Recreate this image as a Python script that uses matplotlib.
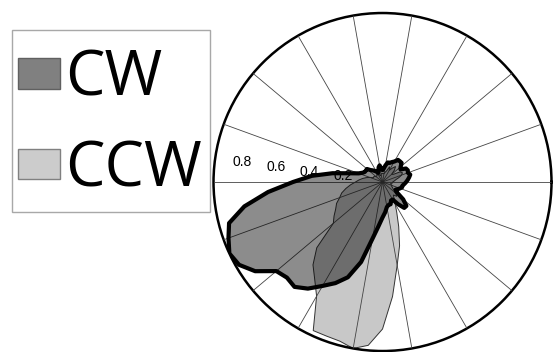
import numpy as np
import matplotlib.pyplot as plt
from matplotlib.patches import Patch, Rectangle
from matplotlib.transforms import ScaledTranslation

# direction bins (degrees) and normalised rose radii
angles_deg = np.arange(0, 360, 5)

cw = [0.14, 0.15, 0.16, 0.17, 0.16, 0.165, 0.16, 0.13, 0.14, 0.16, 0.16, 0.16,
      0.14, 0.13, 0.12, 0.12, 0.10, 0.08, 0.07, 0.08, 0.10, 0.09, 0.07, 0.06,
      0.07, 0.08, 0.09, 0.10, 0.12, 0.12, 0.12, 0.13, 0.15, 0.20, 0.30, 0.42,
      0.53, 0.68, 0.83, 0.94, 0.97, 1.00, 0.98, 0.92, 0.82, 0.80, 0.81, 0.77,
      0.71, 0.66, 0.60, 0.49, 0.34, 0.26, 0.21, 0.18, 0.15, 0.14, 0.14, 0.12,
      0.12, 0.16, 0.20, 0.20, 0.16, 0.10, 0.09, 0.10, 0.11, 0.12, 0.12, 0.13]

ccw = [0.06, 0.07, 0.08, 0.10, 0.12, 0.13, 0.12, 0.08, 0.07, 0.10, 0.12, 0.10,
       0.08, 0.10, 0.07, 0.06, 0.05, 0.05, 0.05, 0.05, 0.05, 0.04, 0.04, 0.05,
       0.05, 0.06, 0.05, 0.05, 0.05, 0.06, 0.06, 0.06, 0.08, 0.10, 0.12, 0.14,
       0.16, 0.19, 0.22, 0.25, 0.27, 0.30, 0.32, 0.35, 0.38, 0.55, 0.64, 0.70,
       0.78, 0.97, 0.97, 0.975, 1.00, 0.97, 0.87, 0.68, 0.50, 0.39, 0.28, 0.20,
       0.15, 0.12, 0.10, 0.12, 0.10, 0.08, 0.07, 0.06, 0.06, 0.05, 0.05, 0.06]

series_names = ['CW', 'CCW']
r_ticks = [0.2, 0.4, 0.6, 0.8]

theta = np.deg2rad(np.append(angles_deg, angles_deg[0]))
cw_r = np.append(cw, cw[0])
ccw_r = np.append(ccw, ccw[0])

fig = plt.figure(figsize=(5.54, 3.52), dpi=100)
ax = fig.add_axes([0.3854, 0.0028, 0.6101, 0.9602], projection='polar')

ax.fill(theta, ccw_r, facecolor='#c8c8c8', edgecolor='#333333', linewidth=0.7, zorder=1)
ax.fill(theta, cw_r, facecolor=(0, 0, 0, 0.45), edgecolor='black', linewidth=3,
        joinstyle='round', zorder=3)

ax.set_ylim(0, 1.0)
ax.set_axisbelow(False)
ax.set_thetagrids(range(0, 360, 20), labels=[])
ax.set_rgrids(r_ticks, labels=[str(t) for t in r_ticks], angle=172,
              fontsize=10, family='Liberation Sans')
ax.xaxis.grid(True, color='#444444', linewidth=0.6)
ax.yaxis.grid(False)
ax.tick_params(axis='y', pad=0)
# nudge the radial labels left/down, above the 180 degree spoke
shift = ScaledTranslation(-0.16, -0.06, fig.dpi_scale_trans)
for lbl in ax.get_yticklabels():
    lbl.set_transform(lbl.get_transform() + shift)
ax.spines['polar'].set_linewidth(1.8)

handles = [Patch(facecolor='#808080', edgecolor='#606060'),
           Patch(facecolor='#cccccc', edgecolor='#808080')]
fig.legend(handles, series_names, loc='upper left',
           bbox_to_anchor=(10 / 554, 1 - 40 / 352), borderaxespad=0,
           frameon=False, prop=dict(family='Open Sans', size=45),
           handlelength=0.67, handleheight=0.38, handletextpad=0.08,
           labelspacing=0.45, borderpad=0.13)
# legend box
fig.add_artist(Rectangle((12 / 554, 1 - 212 / 352), 198 / 554, 182 / 352,
                         transform=fig.transFigure, fill=False,
                         edgecolor='#a8a8a8', linewidth=1.0))

fig.savefig('out.png', dpi=100)
